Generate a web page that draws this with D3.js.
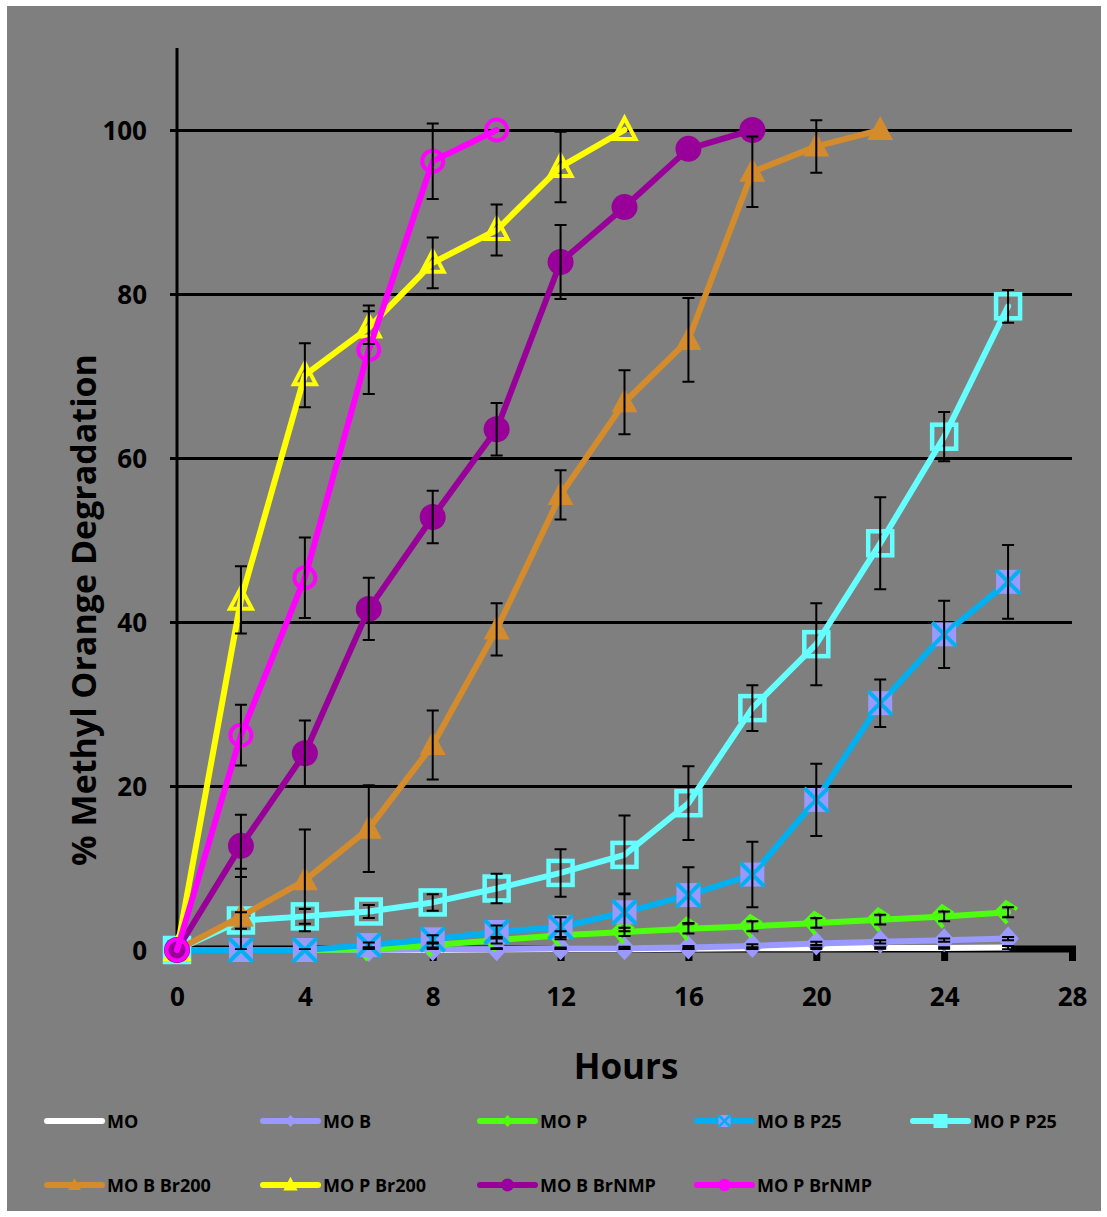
<!DOCTYPE html>
<html>
<head>
<meta charset="utf-8">
<script src="https://cdn.jsdelivr.net/npm/d3@7"></script>
<style>
  html, body { margin: 0; padding: 0; background: #ffffff; }
  svg { display: block; }
  text { font-family: "Open Sans", "DejaVu Sans", sans-serif; font-weight: 700; fill: #000; }
</style>
</head>
<body>
<svg id="chart" width="1107" height="1217"></svg>
<script>
// Sampling times (hours)
const hours = [0, 2, 4, 6, 8, 10, 12, 14, 16, 18, 20, 22, 24, 26];
const xTicks = [0, 4, 8, 12, 16, 20, 24, 28];
const yTicks = [0, 20, 40, 60, 80, 100];

// % methyl orange degraded, with standard deviations
const moVals        = [0, 0, 0, 0, 0, 0.05, 0.1, 0.1, 0.15, 0.2, 0.2, 0.25, 0.25, 0.3];
const moErr         = [0, 0, 0, 0, 0, 0.1, 0.1, 0.1, 0.1, 0.1, 0.1, 0.1, 0.1, 0.2];
const moBVals       = [0, 0, 0, 0, 0.1, 0.1, 0.2, 0.2, 0.3, 0.5, 0.8, 1.0, 1.2, 1.4];
const moBErr        = [0, 0.1, 0.1, 0.1, 0.1, 0.1, 0.1, 0.2, 0.2, 0.2, 0.2, 0.2, 0.2, 0.2];
const moPVals       = [0, 0, 0, 0.1, 0.6, 1.2, 1.8, 2.2, 2.6, 2.9, 3.3, 3.7, 4.1, 4.6];
const moPErr        = [0, 0, 0, 0.2, 0.3, 0.4, 0.5, 0.5, 0.6, 0.6, 0.6, 0.6, 0.6, 0.6];
const moBP25Vals    = [0, 0, 0, 0.6, 1.3, 2.2, 2.8, 4.6, 6.7, 9.2, 18.3, 30.1, 38.5, 44.9];
const moBP25Err     = [0, 0, 0, 0.3, 0.5, 0.8, 1.2, 2.3, 3.4, 4.0, 4.4, 2.9, 4.1, 4.5];
const moPP25Vals    = [0, 3.6, 4.1, 4.7, 5.8, 7.5, 9.4, 11.6, 17.9, 29.5, 37.3, 49.6, 62.6, 78.5];
const moPP25Err     = [0, 1.0, 0.9, 0.8, 1.0, 1.8, 2.9, 4.8, 4.5, 2.8, 5.0, 5.6, 3.0, 2.0];
const moBBr200Vals  = [0, 4.1, 8.5, 14.8, 25.0, 39.1, 55.5, 66.8, 74.4, 94.9, 98.0, 100];
const moBBr200Err   = [0, 5.8, 6.2, 5.3, 4.2, 3.2, 3.0, 3.9, 5.1, 4.3, 3.2, 0];
const moPBr200Vals  = [0, 42.7, 70.1, 75.9, 83.8, 87.8, 95.5, 100];
const moPBr200Err   = [0, 4.1, 3.9, 2.0, 3.1, 3.1, 4.3, 0];
const moBBrNMPVals  = [0, 12.7, 24.0, 41.6, 52.8, 63.5, 83.9, 90.6, 97.7, 100];
const moBBrNMPErr   = [0, 3.8, 4.0, 3.8, 3.2, 3.2, 4.5, 0, 0, 0];
const moPBrNMPVals  = [0, 26.2, 45.4, 73.2, 96.2, 100];
const moPBrNMPErr   = [0, 3.7, 4.9, 5.4, 4.6, 0];

const seriesNames = ["MO", "MO B", "MO P", "MO B P25", "MO P P25",
                     "MO B Br200", "MO P Br200", "MO B BrNMP", "MO P BrNMP"];
const seriesValues = [moVals, moBVals, moPVals, moBP25Vals, moPP25Vals,
                      moBBr200Vals, moPBr200Vals, moBBrNMPVals, moPBrNMPVals];
const seriesErrors = [moErr, moBErr, moPErr, moBP25Err, moPP25Err,
                      moBBr200Err, moPBr200Err, moBBrNMPErr, moPBrNMPErr];
const seriesColors = ["#ffffff", "#9999ff", "#4dff0f", "#00b0f0", "#66ffff",
                      "#d38b2c", "#ffff00", "#990099", "#ff00ff"];
const seriesMarkers = ["none", "diamond", "chevron", "xbox", "openSquare",
                       "triangle", "openTriangle", "circle", "openCircle"];

const svg = d3.select("#chart");

// Grey chart area
svg.append("rect").attr("x", 7).attr("y", 6).attr("width", 1094).attr("height", 1205)
  .attr("fill", "#7f7f7f");

const x = d3.scaleLinear().domain([0, 28]).range([177, 1072]);
const y = d3.scaleLinear().domain([0, 110]).range([950, 48]);

// Horizontal gridlines with short outer ticks
const grid = d3.axisLeft(y).tickValues(yTicks.filter(v => v > 0))
  .tickSize(-(1072 - 170)).tickFormat("");
svg.append("g").attr("transform", "translate(170,0)").call(grid)
  .call(g => g.select(".domain").remove())
  .call(g => g.selectAll(".tick line").attr("stroke", "#000").attr("stroke-width", 3));

// Y axis line
svg.append("line").attr("x1", 177).attr("x2", 177).attr("y1", y(110)).attr("y2", 950)
  .attr("stroke", "#000").attr("stroke-width", 3);

// Y tick labels
const yAxis = d3.axisLeft(y).tickValues(yTicks).tickSize(0).tickPadding(0);
svg.append("g").attr("transform", "translate(147,0)").call(yAxis)
  .call(g => g.select(".domain").remove())
  .call(g => g.selectAll("text").attr("font-size", 26).attr("dy", "0.36em")
    .attr("font-family", null).style("font-family", "'Open Sans', sans-serif").style("font-weight", 700));

// X axis: thick baseline with square tick marks
svg.append("line").attr("x1", 177).attr("x2", 1076).attr("y1", 949).attr("y2", 949)
  .attr("stroke", "#000").attr("stroke-width", 7);
const xAxis = d3.axisBottom(x).tickValues(xTicks).tickSize(12).tickPadding(27);
svg.append("g").attr("transform", "translate(0,949)").call(xAxis)
  .call(g => g.select(".domain").remove())
  .call(g => g.selectAll(".tick line").attr("stroke", "#000").attr("stroke-width", 7))
  .call(g => g.selectAll("text").attr("font-size", 26)
    .attr("font-family", null).style("font-family", "'Open Sans', sans-serif").style("font-weight", 700));

// Axis titles
svg.append("text").attr("x", 626).attr("y", 1079).attr("text-anchor", "middle")
  .attr("font-size", 35).text("Hours");
svg.append("text").attr("transform", "translate(83,610) rotate(-90)")
  .attr("text-anchor", "middle").attr("dominant-baseline", "central")
  .attr("font-size", 34).text("% Methyl Orange Degradation");

// Marker drawing; `solid` fills the open shapes (used for the small legend glyphs)
function drawMarker(g, kind, color, s, solid) {
  const sw = 4;
  switch (kind) {
    case "diamond":
      g.append("path").attr("d", `M0,${-12*s}L${11*s},0L0,${12*s}L${-11*s},0Z`).attr("fill", color);
      break;
    case "chevron":
      if (solid) {
        g.append("path").attr("d", `M0,${-12*s}L${11*s},0L0,${12*s}L${-11*s},0Z`).attr("fill", color);
      } else {
        g.append("path").attr("d", `M${9*s},${-3*s}L${-2*s},${-10*s}L${-11*s},${-1*s}L${-1*s},${11*s}`)
          .attr("fill", "none").attr("stroke", color).attr("stroke-width", sw);
      }
      break;
    case "xbox":
      g.append("rect").attr("x", -12*s).attr("y", -12*s).attr("width", 24*s).attr("height", 24*s)
        .attr("fill", "#9999ff");
      g.append("path").attr("d", `M${-12*s},${-12*s}L${12*s},${12*s}M${12*s},${-12*s}L${-12*s},${12*s}`)
        .attr("stroke", color).attr("stroke-width", solid ? 2.5 : sw);
      break;
    case "openSquare":
      g.append("rect").attr("x", -12*s).attr("y", -12*s).attr("width", 24*s).attr("height", 24*s)
        .attr("fill", solid ? color : "none").attr("stroke", color).attr("stroke-width", solid ? 2 : 4.5);
      break;
    case "triangle":
      g.append("path").attr("d", `M0,${-14*s}L${13*s},${10*s}L${-13*s},${10*s}Z`).attr("fill", color);
      break;
    case "openTriangle":
      g.append("path").attr("d", `M0,${-12*s}L${11*s},${9*s}L${-11*s},${9*s}Z`)
        .attr("fill", solid ? color : "none").attr("stroke", color).attr("stroke-width", solid ? 2 : sw);
      break;
    case "circle":
      g.append("circle").attr("r", 13*s).attr("fill", color);
      break;
    case "openCircle":
      g.append("circle").attr("r", 10.5*s).attr("fill", solid ? color : "none").attr("stroke", color)
        .attr("stroke-width", solid ? 2 : sw);
      break;
  }
}

const line = d3.line().x(d => x(d.h)).y(d => y(d.v));

// Series: lines and markers, drawn in order
seriesNames.forEach((name, i) => {
  const pts = seriesValues[i].map((v, k) => ({ h: hours[k], v: v }));
  const g = svg.append("g").attr("class", "series");
  g.append("path").datum(pts).attr("d", line).attr("fill", "none")
    .attr("stroke", seriesColors[i]).attr("stroke-width", 6)
    .attr("stroke-linejoin", "round").attr("stroke-linecap", "round");
  pts.forEach(p => {
    const m = g.append("g").attr("transform", `translate(${x(p.h)},${y(p.v)})`);
    drawMarker(m, seriesMarkers[i], seriesColors[i], 1, false);
  });
});

// Error bars, clipped to the plotting area
svg.append("clipPath").attr("id", "plotClip").append("rect")
  .attr("x", 150).attr("y", y(110)).attr("width", 950).attr("height", 950 - y(110));
const eb = svg.append("g").attr("clip-path", "url(#plotClip)");
seriesNames.forEach((name, i) => {
  seriesValues[i].forEach((v, k) => {
    const e = seriesErrors[i][k];
    if (!e) return;
    const cx = x(hours[k]), y1 = y(v + e), y2 = y(v - e);
    eb.append("path")
      .attr("d", `M${cx},${y1}V${y2}M${cx-6},${y1}H${cx+6}M${cx-6},${y2}H${cx+6}`)
      .attr("stroke", "#000").attr("stroke-width", 2).attr("fill", "none");
  });
});

// Legend
const legCols = [47, 263, 480, 697, 913];
const legRows = [1121, 1185];
seriesNames.forEach((name, i) => {
  const row = i < 5 ? 0 : 1;
  const col = i < 5 ? i : i - 5;
  const lx = legCols[col], ly = legRows[row];
  const lg = svg.append("g").attr("class", "legend-item");
  lg.append("line").attr("x1", lx).attr("x2", lx + 55).attr("y1", ly).attr("y2", ly)
    .attr("stroke", seriesColors[i]).attr("stroke-width", 6).attr("stroke-linecap", "round");
  const m = lg.append("g").attr("transform", `translate(${lx + 27.5},${ly})`);
  drawMarker(m, seriesMarkers[i], seriesColors[i], 0.5, true);
  lg.append("text").attr("x", lx + 60).attr("y", ly + 6.5).attr("font-size", 18).text(name);
});
</script>
</body>
</html>
